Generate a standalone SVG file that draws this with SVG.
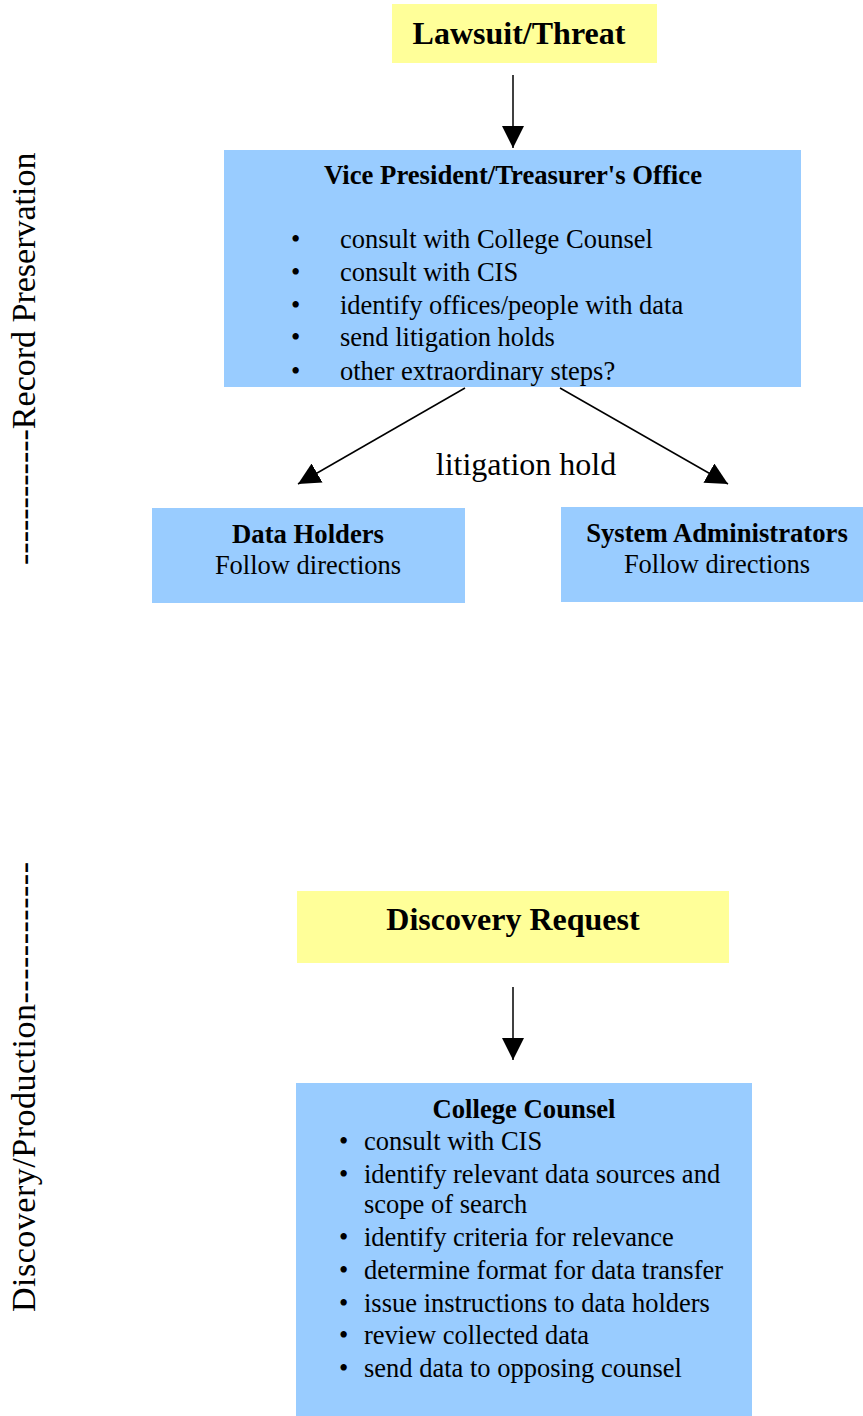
<svg xmlns="http://www.w3.org/2000/svg" width="863" height="1416" viewBox="0 0 863 1416">
<style>
.y{fill:#FFFF99}
.b{fill:#99CCFF}
text{font-family:"Liberation Serif","Times New Roman",serif;fill:#000}
.t{font-size:26.5px}
.h{font-weight:bold;font-size:26.7px}
.hb{font-weight:bold;font-size:32px}
.side{font-size:34px}
.c{stroke:#000;stroke-width:1.5;fill:none}
</style>
<defs>
<marker id="ah2" viewBox="0 0 20 20" refX="20" refY="10" markerWidth="22" markerHeight="22" markerUnits="userSpaceOnUse" orient="auto">
<path d="M0,0 L20,10 L0,20 z" fill="#000"/>
</marker>
<clipPath id="vpclip"><rect x="224" y="150" width="577" height="236"/></clipPath>
</defs>

<g id="label-record">
<text class="side" transform="translate(35,565) rotate(-90)">------------Record Preservation</text>
</g>
<g id="label-discovery">
<text class="side" transform="translate(35,1312) rotate(-90)" textLength="450" lengthAdjust="spacing">Discovery/Production------------</text>
</g>

<g id="lawsuit">
<rect class="y" x="392" y="4" width="265" height="59"/>
<text class="hb" x="519" y="44" text-anchor="middle">Lawsuit/Threat</text>
</g>

<g id="vp">
<rect class="b" x="224" y="150" width="577" height="237"/>
<g clip-path="url(#vpclip)">
<text class="h" x="513" y="184" text-anchor="middle">Vice President/Treasurer's Office</text>
<g class="t">
<text x="291" y="248">•</text><text x="340" y="248">consult with College Counsel</text>
<text x="291" y="281">•</text><text x="340" y="281">consult with CIS</text>
<text x="291" y="314">•</text><text x="340" y="314">identify offices/people with data</text>
<text x="291" y="346">•</text><text x="340" y="346">send litigation holds</text>
<text x="291" y="380">•</text><text x="340" y="380">other extraordinary steps?</text>
</g>
</g>
</g>

<g id="dataholders">
<rect class="b" x="152" y="508" width="313" height="95"/>
<text class="h" x="308" y="543" text-anchor="middle">Data Holders</text>
<text class="t" x="308" y="574" text-anchor="middle">Follow directions</text>
</g>

<g id="sysadmin">
<rect class="b" x="561" y="507" width="302" height="95"/>
<text class="h" x="717" y="542" text-anchor="middle">System Administrators</text>
<text class="t" x="717" y="573" text-anchor="middle">Follow directions</text>
</g>

<g id="discovery">
<rect class="y" x="297" y="891" width="432" height="72"/>
<text class="hb" x="513" y="930" text-anchor="middle">Discovery Request</text>
</g>

<g id="counsel">
<rect class="b" x="296" y="1083" width="456" height="333"/>
<text class="h" x="524" y="1118" text-anchor="middle">College Counsel</text>
<g class="t">
<text x="339" y="1150">•</text><text x="364" y="1150">consult with CIS</text>
<text x="339" y="1183">•</text><text x="364" y="1183">identify relevant data sources and</text>
<text x="364" y="1213">scope of search</text>
<text x="339" y="1246">•</text><text x="364" y="1246">identify criteria for relevance</text>
<text x="339" y="1279">•</text><text x="364" y="1279">determine format for data transfer</text>
<text x="339" y="1312">•</text><text x="364" y="1312">issue instructions to data holders</text>
<text x="339" y="1344">•</text><text x="364" y="1344">review collected data</text>
<text x="339" y="1377">•</text><text x="364" y="1377">send data to opposing counsel</text>
</g>
</g>

<g id="connectors">
<line class="c" x1="513" y1="75" x2="513" y2="148" marker-end="url(#ah2)"/>
<line class="c" x1="465" y1="388" x2="298" y2="484" marker-end="url(#ah2)"/>
<line class="c" x1="560" y1="388" x2="728" y2="484" marker-end="url(#ah2)"/>
<line class="c" x1="513" y1="987" x2="513" y2="1060" marker-end="url(#ah2)"/>
<text x="526" y="475" text-anchor="middle" style="font-size:32px">litigation hold</text>
</g>
</svg>
